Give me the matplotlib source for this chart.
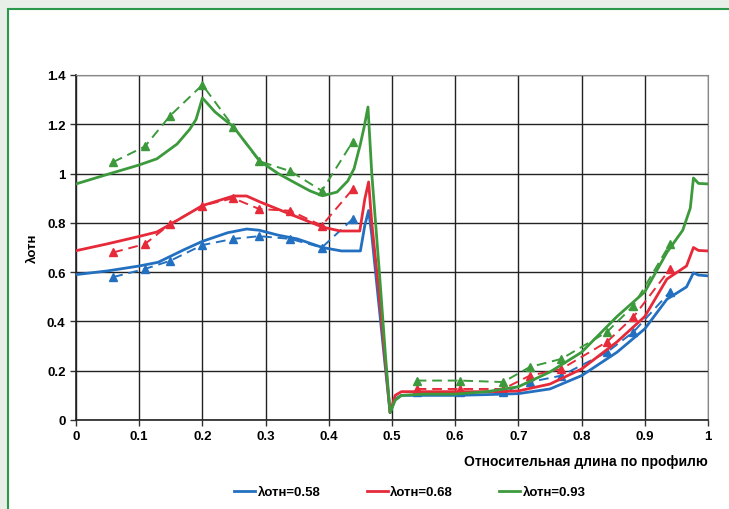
import matplotlib
matplotlib.use("Agg")
import matplotlib.pyplot as plt
from matplotlib.patches import Rectangle

plt.rcParams['font.family'] = ['Liberation Sans Narrow', 'Liberation Sans', 'DejaVu Sans']
plt.rcParams['font.weight'] = 'bold'

# ---- data ----
blue_x = [0, 0.05, 0.1, 0.13, 0.17, 0.2, 0.24, 0.27, 0.29, 0.32, 0.35, 0.39, 0.42, 0.45, 0.457, 0.463,
          0.468, 0.48, 0.49, 0.497, 0.505, 0.515, 0.55, 0.6, 0.65, 0.7, 0.75, 0.8, 0.856, 0.9, 0.935,
          0.966, 0.977, 0.985, 1.0]
blue_y = [0.59, 0.605, 0.625, 0.64, 0.69, 0.725, 0.76, 0.775, 0.77, 0.75, 0.735, 0.70, 0.686, 0.686, 0.79, 0.85,
          0.75, 0.45, 0.2, 0.03, 0.085, 0.10, 0.10, 0.10, 0.103, 0.107, 0.126, 0.18, 0.275, 0.37, 0.49,
          0.54, 0.597, 0.588, 0.585]

red_x = [0, 0.05, 0.1, 0.128, 0.16, 0.2, 0.249, 0.27, 0.291, 0.32, 0.344, 0.39, 0.418, 0.449, 0.457, 0.463,
         0.468, 0.48, 0.49, 0.497, 0.505, 0.515, 0.55, 0.6, 0.65, 0.7, 0.75, 0.8, 0.856, 0.9, 0.935,
         0.966, 0.977, 0.985, 1.0]
red_y = [0.687, 0.715, 0.745, 0.763, 0.81, 0.87, 0.909, 0.909, 0.885, 0.855, 0.83, 0.783, 0.767, 0.767, 0.897, 0.966,
         0.80, 0.50, 0.22, 0.03, 0.10, 0.115, 0.115, 0.115, 0.115, 0.118, 0.146, 0.207, 0.317, 0.42, 0.572,
         0.625, 0.70, 0.688, 0.686]

green_x = [0, 0.054, 0.1, 0.128, 0.16, 0.18, 0.19, 0.2, 0.22, 0.249, 0.27, 0.291, 0.32, 0.344, 0.37, 0.39,
           0.413, 0.43, 0.44, 0.45, 0.456, 0.462, 0.468, 0.48, 0.49, 0.497, 0.505, 0.515, 0.55, 0.6, 0.65,
           0.7, 0.75, 0.8, 0.856, 0.9, 0.935, 0.96, 0.972, 0.977, 0.985, 1.0]
green_y = [0.958, 1.0, 1.035, 1.06, 1.12, 1.18, 1.22, 1.307, 1.25, 1.19, 1.12, 1.05, 1.0, 0.966, 0.93, 0.91,
           0.925, 0.97, 1.02, 1.12, 1.19, 1.27, 1.0, 0.6, 0.25, 0.03, 0.08, 0.10, 0.105, 0.105, 0.115,
           0.135, 0.195, 0.275, 0.42, 0.52, 0.68, 0.77, 0.86, 0.982, 0.96, 0.958]

# dashed (experimental) series with triangles, two segments each
exp_x1 = [0.059, 0.109, 0.149, 0.2, 0.249, 0.29, 0.339, 0.389, 0.438]
exp_x2 = [0.539, 0.608, 0.676, 0.718, 0.768, 0.84, 0.882, 0.94]
blue_e1 = [0.58, 0.613, 0.646, 0.71, 0.735, 0.746, 0.735, 0.70, 0.816]
blue_e2 = [0.113, 0.113, 0.113, 0.154, 0.18, 0.275, 0.357, 0.52]
red_e1 = [0.68, 0.714, 0.795, 0.87, 0.90, 0.856, 0.849, 0.789, 0.937]
red_e2 = [0.126, 0.126, 0.126, 0.18, 0.207, 0.317, 0.418, 0.613]
green_e1 = [1.047, 1.11, 1.235, 1.36, 1.19, 1.05, 1.01, 0.93, 1.13]
green_e2 = [0.16, 0.16, 0.154, 0.215, 0.248, 0.357, 0.463, 0.715]

labels = ['λотн=0.58', 'λотн=0.68', 'λотн=0.93']
colors = ['#2470c0', '#e62a3a', '#3c9a3c']

x_ticks = [0, 0.1, 0.2, 0.3, 0.4, 0.5, 0.6, 0.7, 0.8, 0.9, 1]
x_tick_labels = ['0', '0.1', '0.2', '0.3', '0.4', '0.5', '0.6', '0.7', '0.8', '0.9', '1']
y_ticks = [0, 0.2, 0.4, 0.6, 0.8, 1.0, 1.2, 1.4]
y_tick_labels = ['0', '0.2', '0.4', '0.6', '0.8', '1', '1.2', '1.4']

# ---- figure ----
fig = plt.figure(figsize=(7.29, 5.10), dpi=100, facecolor='#e8efe9')
frame = Rectangle((8 / 729, -0.05), 1.0, 1 - 10 / 510 + 0.05, transform=fig.transFigure,
                  facecolor='white', edgecolor='#2a9a4a', linewidth=1.5, zorder=-10)
fig.patches.append(frame)

ax = fig.add_axes([76 / 729, 1 - 421 / 510, (708 - 76) / 729, (421 - 76) / 510])
ax.set_zorder(5)
ax.set_facecolor('white')

solids = [(blue_x, blue_y), (red_x, red_y), (green_x, green_y)]
exps = [(blue_e1, blue_e2), (red_e1, red_e2), (green_e1, green_e2)]
for (sx, sy), (e1, e2), c, lab in zip(solids, exps, colors, labels):
    ax.plot(exp_x1, e1, linestyle=(0, (5, 3)), color=c, lw=1.4, marker='^', ms=6, zorder=3)
    ax.plot(exp_x2, e2, linestyle=(0, (5, 3)), color=c, lw=1.4, marker='^', ms=6, zorder=3)
    ax.plot(sx, sy, color=c, lw=2.0, label=lab, zorder=4)

ax.set_xlim(0, 1)
ax.set_ylim(0, 1.4)
ax.set_xticks(x_ticks)
ax.set_xticklabels(x_tick_labels)
ax.set_yticks(y_ticks)
ax.set_yticklabels(y_tick_labels)
ax.tick_params(axis='both', labelsize=9.5, length=4, width=1, direction='out', color='#333333')
ax.grid(True, color='#222222', lw=1)
ax.set_axisbelow(True)
for s in ['top', 'right']:
    ax.spines[s].set_color('#888888')
for s in ['left', 'bottom']:
    ax.spines[s].set_color('#222222')
    ax.spines[s].set_linewidth(1.2)

ax.set_ylabel('λотн', fontsize=9.5, fontweight='bold', labelpad=6)
ax.text(1.0, -0.12, 'Относительная длина по профилю', transform=ax.transAxes,
        ha='right', va='center', fontsize=10, fontweight='bold')

leg = fig.legend(loc='center', bbox_to_anchor=(410 / 729, 1 - 493 / 510), ncol=3, frameon=False,
                 fontsize=9.5, handlelength=1.6, handletextpad=0.2, columnspacing=3.5)

fig.savefig('out.png', dpi=100, facecolor=fig.get_facecolor())
